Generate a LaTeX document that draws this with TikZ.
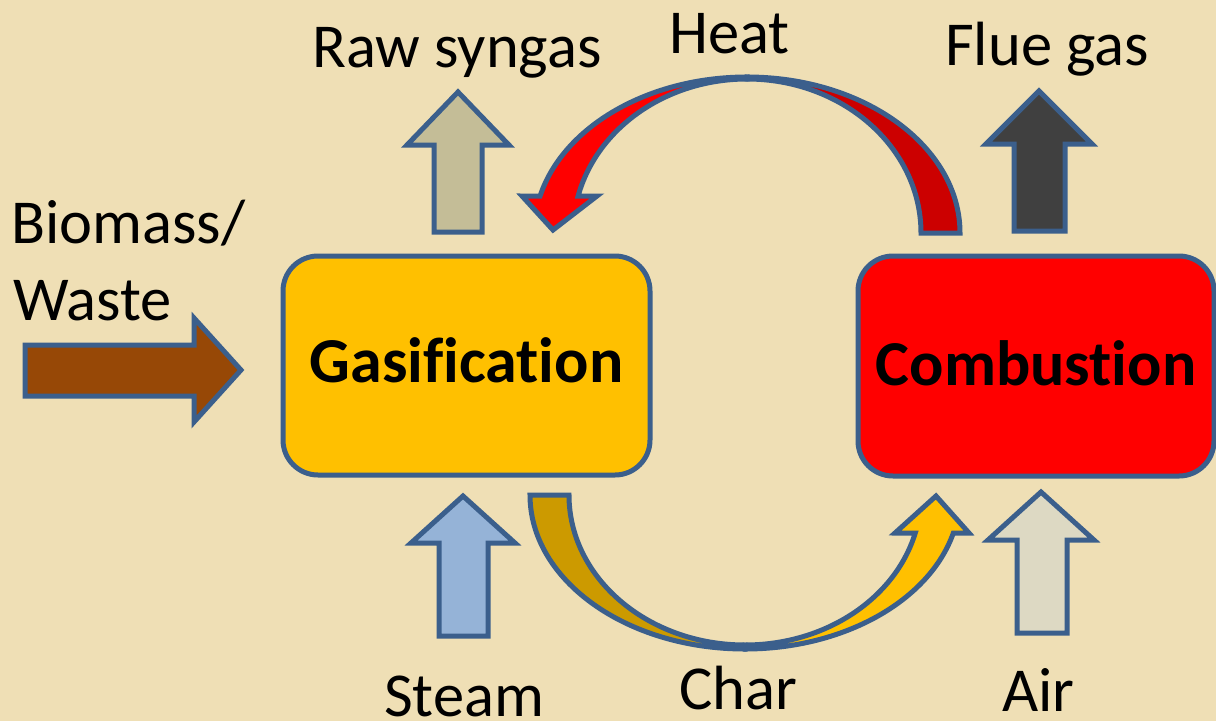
\documentclass[tikz,border=0pt]{standalone}
\usepackage{fontspec}
\setmainfont{Carlito}[Ligatures=NoCommon]
\usetikzlibrary{calc}
\definecolor{bg}{HTML}{EFDFB5}
\definecolor{edge}{HTML}{3B5F8C}
\definecolor{gasy}{HTML}{FFC000}
\definecolor{combr}{HTML}{FF0000}
\definecolor{rawc}{HTML}{C4BD97}
\definecolor{fluec}{HTML}{404040}
\definecolor{steamc}{HTML}{95B3D7}
\definecolor{airc}{HTML}{DDD9C3}
\definecolor{bioc}{HTML}{974806}
\definecolor{heatlight}{HTML}{FF0000}
\definecolor{heatdark}{HTML}{CC0000}
\definecolor{charlight}{HTML}{FFC000}
\definecolor{chardark}{HTML}{CC9A00}
\begin{document}
\begin{tikzpicture}[x=1pt,y=-1pt,
  blk/.style={draw=edge,line width=5pt,line join=miter},
  lbl/.style={anchor=base west,inner sep=0pt,font=\fontsize{62.5}{73}\selectfont},
  procbox/.style={draw=edge,line width=5pt,rounded corners=35pt,inner sep=0pt,
    text height=45pt,font=\bfseries\fontsize{64}{70}\selectfont}]
\fill[bg] (0,0) rectangle (1216,721);
\useasboundingbox (0,0) rectangle (1216,721);

% process boxes
\node[procbox,fill=gasy,minimum width=367pt,minimum height=219pt,text depth=12pt] (gas) at (466.5,365.5) {Gasification};
\node[procbox,fill=combr,minimum width=356pt,minimum height=220pt,text depth=6pt] (comb) at (1036,366) {Combustion};

% straight block arrows
\filldraw[blk,fill=rawc] (434,232) -- (434,145) -- (407,145) -- (458,92) -- (509,145) -- (482,145) -- (482,232) -- cycle;
\filldraw[blk,fill=fluec] (1014,231) -- (1014,144) -- (986,144) -- (1039,91) -- (1092,144) -- (1065,144) -- (1065,231) -- cycle;
\filldraw[blk,fill=steamc] (439,636) -- (439,543) -- (411,543) -- (463,496) -- (515,543) -- (488,543) -- (488,636) -- cycle;
\filldraw[blk,fill=airc] (1017,633) -- (1017,540) -- (988,540) -- (1041,492) -- (1094,540) -- (1067,540) -- (1067,633) -- cycle;
\filldraw[blk,fill=bioc] (25,345) -- (194,345) -- (194,318) -- (241,370) -- (194,422) -- (194,396) -- (25,396) -- cycle;

% heat curved arrow
\coordinate (hc) at (747,233);
\filldraw[blk,fill=heatdark] ($(hc)+(0:213 and 156)$) arc[start angle=0,end angle=-90,x radius=213,y radius=156]
  -- ($(hc)+(-90:174 and 154)$) arc[start angle=-90,end angle=0,x radius=174,y radius=154] -- cycle;
\filldraw[blk,fill=heatlight] ($(hc)+(-90:213 and 156)$) arc[start angle=-90,end angle=-166.3,x radius=213,y radius=156]
  -- (522,196) -- (553,230) -- (597,196)
  -- ($(hc)+(-166.1:174 and 154)$) arc[start angle=-166.1,end angle=-90,x radius=174,y radius=154] -- cycle;

% char curved arrow
\coordinate (cc) at (745,495);
\filldraw[blk,fill=chardark] ($(cc)+(180:215 and 154)$) arc[start angle=180,end angle=90,x radius=215,y radius=154]
  -- ($(cc)+(90:176 and 150)$) arc[start angle=90,end angle=180,x radius=176,y radius=150] -- cycle;
\filldraw[blk,fill=charlight] ($(cc)+(90:215 and 154)$) arc[start angle=90,end angle=14.3,x radius=215,y radius=154]
  -- (969,533) -- (936,496) -- (895,533)
  -- ($(cc)+(14.7:176 and 150)$) arc[start angle=14.7,end angle=90,x radius=176,y radius=150] -- cycle;

% labels
\node[lbl] (raw) at (312,67) {Raw syngas};
\node[lbl] (heat) at (669,53) {Heat};
\node[lbl] (flue) at (945,65) {Flue gas};
\node[lbl] (bio1) at (11,243) {Biomass/};
\node[lbl] (bio2) at (13,320) {Waste};
\node[lbl] (steam) at (384,716) {Steam};
\node[lbl] (char) at (679,709) {Char};
\node[lbl] (air) at (1002,711) {Air};
\end{tikzpicture}
\end{document}
